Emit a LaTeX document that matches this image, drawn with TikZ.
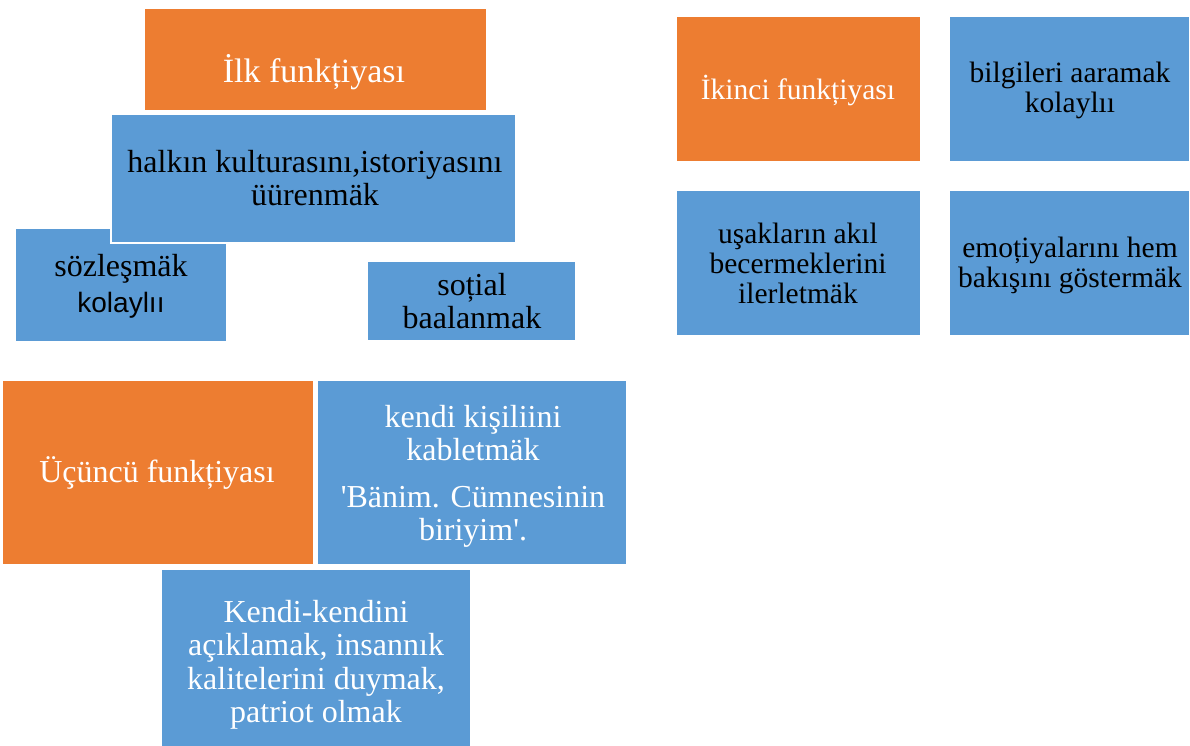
\documentclass[tikz,border=0pt]{standalone}
\usepackage{fontspec}
\setmainfont{Liberation Serif}[Ligatures=TeXOff]
\newfontfamily\arialfont{Liberation Sans}
\definecolor{orng}{HTML}{ED7D31}
\definecolor{blu}{HTML}{5B9BD5}
\tikzset{
  boxbase/.style={draw=white, line width=1.5pt, inner sep=0pt, outer sep=0pt, anchor=north west},
  obox/.style={boxbase, fill=orng},
  bbox/.style={boxbase, fill=blu},
  txt/.style={align=center, font=\fontsize{32}{33}\selectfont, inner sep=0pt},
  rtxt/.style={align=center, font=\fontsize{29.5}{30}\selectfont, inner sep=0pt},
  wtxt/.style={txt, text=white},
  ktxt/.style={txt, text=black}
}
\begin{document}
\begin{tikzpicture}[x=1pt,y=-1pt]
\path[use as bounding box] (0,0) rectangle (1190,746);
% boxes
\node[obox, minimum width=343pt, minimum height=103pt] (b1) at (144,8) {};
\node[bbox, minimum width=212pt, minimum height=114pt] (b3) at (15,228) {};
\node[bbox, minimum width=405pt, minimum height=129pt] (b2) at (111,114) {};
\node[bbox, minimum width=209pt, minimum height=80pt] (b4) at (367,261) {};
\node[obox, minimum width=245pt, minimum height=146pt] (b5) at (676,16) {};
\node[bbox, minimum width=241pt, minimum height=146pt] (b6) at (949,16) {};
\node[bbox, minimum width=245pt, minimum height=146pt] (b7) at (676,190) {};
\node[bbox, minimum width=241pt, minimum height=146pt] (b8) at (949,190) {};
\node[obox, minimum width=312pt, minimum height=185pt] (b9) at (2,380) {};
\node[bbox, minimum width=310pt, minimum height=185pt] (b10) at (317,380) {};
\node[bbox, minimum width=310pt, minimum height=180pt] (b11) at (161,569) {};
% texts
\node[wtxt, font=\fontsize{34}{34}\selectfont] (t1) at (314,72) {İlk funkțiyası};
\node[ktxt] (t2) at (315,178) {halkın kulturasını,istoriyasını\\üürenmäk};
\node[ktxt, font=\fontsize{32}{36}\selectfont] (t3) at (121,286) {sözleşmäk\\{\arialfont\fontsize{28}{36}\selectfont kolaylıı}};
\node[ktxt] (t4) at (472,301) {soțial\\baalanmak};
\node[rtxt, text=white] (t5) at (798,91) {İkinci funkțiyası};
\node[rtxt] (t6) at (1070,90) {bilgileri aaramak\\kolaylıı};
\node[rtxt] (t7) at (798,263) {uşakların akıl\\becermeklerini\\ilerletmäk};
\node[rtxt] (t8) at (1070,265) {emoțiyalarını hem\\bakışını göstermäk};
\node[wtxt] (t9) at (157,473) {Üçüncü funkțiyası};
\node[wtxt] (t10) at (473,476) {kendi kişiliini\\kabletmäk\\[14pt]'Bänim. Cümnesinin\\biriyim'.};
\node[wtxt, font=\fontsize{32}{33.5}\selectfont] (t11) at (316,665) {Kendi-kendini\\açıklamak, insannık\\kalitelerini duymak,\\patriot olmak};
\end{tikzpicture}
\end{document}
